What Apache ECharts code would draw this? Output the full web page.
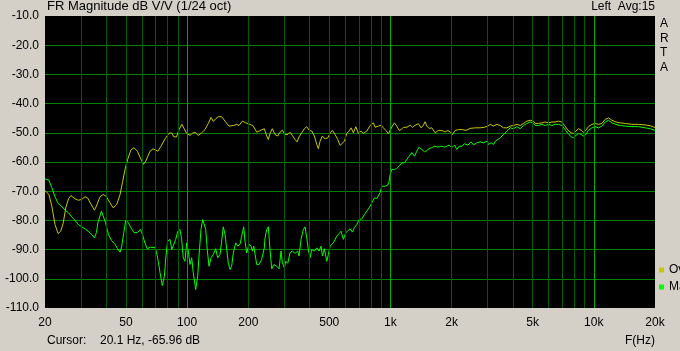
<!DOCTYPE html>
<html>
<head>
<meta charset="utf-8">
<script src="https://cdn.jsdelivr.net/npm/echarts@6/dist/echarts.min.js"></script>
<style>
html,body{margin:0;padding:0;background:#d4d0c8;}
#c{width:680px;height:351px;}
</style>
</head>
<body>
<div id="c"></div>
<script>
// Frequency tick values
const xLabelTicks = [20, 50, 100, 200, 500, 1000, 2000, 5000, 10000, 20000];
const xMinorGrid = [30, 40, 50, 60, 70, 80, 90, 200, 300, 400, 500, 600, 700, 800, 900,
                    2000, 3000, 4000, 5000, 6000, 7000, 8000, 9000];
const xMajorGrid = [100, 1000, 10000];
const seriesNames = ['Ov', 'Ma'];

// Series "Ov" : [frequency Hz, dB]
const ovData = [[20.0,-69.8],[20.4,-70.0],[20.9,-71.1],[21.6,-75.1],[22.4,-81.4],[23.2,-84.5],[23.9,-83.7],[24.6,-80.8],[25.3,-75.7],[26.1,-72.6],[26.8,-71.5],[28.1,-72.6],[29.2,-73.1],[30.3,-72.8],[31.5,-71.9],[32.4,-72.3],[33.7,-74.5],[35.0,-76.5],[35.8,-75.1],[37.3,-71.9],[38.7,-71.1],[40.1,-71.9],[41.8,-74.0],[43.3,-75.7],[45.1,-74.5],[46.8,-71.1],[48.2,-66.6],[49.5,-62.6],[51.0,-59.1],[52.9,-55.9],[54.8,-55.1],[56.9,-56.3],[58.9,-58.6],[61.0,-60.8],[62.6,-59.7],[65.7,-56.3],[68.0,-55.5],[69.5,-55.5],[71.8,-56.3],[74.4,-54.6],[77.8,-52.1],[81.3,-50.2],[83.9,-50.0],[86.1,-51.4],[88.6,-51.4],[91.3,-48.9],[94.2,-47.1],[96.7,-48.6],[99.5,-50.2],[103.3,-50.9],[106.0,-50.2],[109.3,-49.8],[113.5,-50.9],[117.9,-50.0],[122.4,-48.9],[127.1,-46.8],[131.1,-44.7],[134.5,-46.1],[138.2,-45.2],[142.3,-44.5],[147.9,-44.5],[153.6,-46.0],[160.7,-47.7],[168.7,-47.5],[175.3,-47.1],[180.0,-47.5],[186.8,-46.0],[194.2,-46.6],[203.9,-47.1],[211.6,-47.7],[219.9,-49.8],[230.9,-49.1],[239.7,-48.6],[246.3,-51.1],[250.8,-52.3],[255.7,-50.2],[262.4,-48.6],[270.6,-50.6],[279.0,-51.1],[286.4,-49.8],[294.0,-49.1],[303.1,-50.6],[312.5,-50.6],[320.7,-49.8],[329.2,-50.9],[339.4,-52.3],[347.2,-53.1],[355.2,-51.4],[366.2,-50.0],[377.2,-48.6],[387.6,-47.9],[397.8,-49.1],[410.1,-49.4],[422.4,-51.1],[434.1,-54.0],[442.0,-55.4],[450.6,-52.9],[462.5,-51.1],[476.9,-52.1],[491.7,-51.7],[504.7,-50.2],[518.0,-49.1],[534.1,-50.6],[550.7,-52.3],[565.2,-54.3],[576.2,-54.8],[593.5,-52.9],[609.8,-50.2],[626,-49.4],[640.3,-48.3],[657.2,-50.0],[675.4,-47.9],[695.5,-50.2],[717.1,-49.4],[735.9,-50.2],[765,-49.4],[794.1,-47.5],[824.3,-46.6],[840.4,-48.1],[856.7,-48.5],[872.3,-47.7],[899.5,-47.4],[923.2,-48.3],[948.7,-49.2],[977,-50.3],[996,-50.0],[1022,-47.7],[1046,-46.6],[1074,-47.7],[1103,-49.2],[1129,-48.9],[1158,-48.1],[1204,-48.1],[1250,-47.4],[1283,-48.1],[1322,-47.4],[1372,-46.9],[1415,-48.3],[1452,-47.4],[1481,-46.2],[1510,-47.7],[1550,-48.5],[1597,-48.3],[1627,-48.9],[1659,-50.0],[1722,-49.2],[1789,-49.2],[1858,-49.7],[1916,-49.2],[1966,-49.7],[2018,-50.6],[2081,-49.2],[2160,-48.9],[2260,-48.9],[2349,-49.2],[2466,-48.5],[2610,-48.3],[2762,-48.3],[2900,-48.1],[3014,-47.7],[3093,-47.1],[3211,-47.7],[3337,-47.1],[3464,-47.5],[3596,-48.3],[3737,-48.3],[3880,-47.7],[4027,-47.5],[4186,-47.1],[4345,-47.5],[4510,-46.8],[4687,-46.0],[4866,-45.7],[5051,-46.0],[5150,-46.8],[5346,-46.8],[5556,-46.6],[5768,-46.3],[5987,-46.6],[6222,-46.3],[6460,-46.3],[6705,-46.0],[6969,-46.3],[7178,-47.5],[7459,-49.1],[7743,-50.0],[7947,-50.2],[8168,-49.4],[8411,-48.6],[8673,-49.1],[8901,-49.8],[9148,-49.1],[9420,-47.9],[9790,-47.1],[10164,-46.8],[10550,-47.1],[10965,-46.8],[11383,-45.4],[11816,-44.9],[12280,-45.7],[12851,-46.3],[13492,-46.6],[14278,-46.8],[15403,-47.1],[16599,-47.1],[17910,-47.3],[18954,-47.6],[20000,-48.2]];

// Series "Ma" : [frequency Hz, dB]
const maData = [[20.0,-65.8],[20.9,-66.2],[21.6,-68.8],[22.4,-71.9],[23.2,-74.2],[24.1,-75.1],[25.1,-76.5],[26.1,-77.4],[27.1,-78.8],[28.1,-80.0],[29.2,-81.4],[30.3,-82.2],[31.5,-82.9],[32.6,-83.7],[33.9,-84.8],[35.0,-86.0],[35.8,-84.2],[36.4,-80.8],[37.9,-76.8],[38.7,-77.4],[39.7,-80.8],[41.0,-84.8],[42.5,-86.9],[44.2,-88.2],[45.5,-89.7],[46.8,-90.9],[47.7,-88.8],[48.8,-84.2],[49.9,-79.9],[51.4,-80.8],[52.9,-82.5],[54.8,-84.2],[56.9,-84.2],[58.9,-83.1],[60.3,-84.8],[61.8,-87.4],[63.6,-89.7],[65.9,-89.2],[69.5,-89.3],[70.8,-91.1],[72.1,-94.0],[73.6,-97.9],[75.5,-102.3],[77.3,-99.1],[78.7,-92.2],[80.2,-87.1],[82.4,-86.5],[84.0,-90.0],[85.5,-90.5],[87.9,-86.5],[89.9,-83.7],[92.2,-83.1],[94.0,-86.5],[95.7,-92.8],[97.6,-94.0],[99.5,-87.7],[101.3,-90.5],[103.3,-95.1],[105.3,-92.8],[107.2,-97.9],[110.2,-103.7],[112.7,-99.1],[114.4,-92.2],[117.0,-83.1],[119.3,-79.7],[121.5,-79.1],[123.4,-83.1],[125.6,-90.0],[128.1,-95.7],[131.1,-92.8],[134.5,-91.7],[138.2,-89.7],[141.3,-92.8],[145.1,-91.7],[147.9,-87.1],[150.6,-82.2],[153.6,-84.8],[156.6,-90.0],[159.4,-94.5],[162.5,-96.8],[165.6,-95.7],[168.7,-91.1],[173.4,-87.7],[177.3,-88.8],[182.0,-88.2],[185.5,-85.4],[189.8,-82.2],[192.6,-87.1],[196.3,-91.1],[201.5,-88.2],[206.2,-88.8],[209.3,-90.5],[212.6,-88.8],[219.9,-95.1],[225.7,-95.1],[232.7,-93.4],[239.7,-89.4],[241.6,-86.0],[246.3,-83.1],[250.8,-82.2],[255.7,-90.0],[260.7,-96.6],[266.6,-95.1],[275.8,-95.7],[283.2,-96.6],[289.7,-90.5],[294.0,-94.5],[300.7,-96.2],[305.5,-94.0],[312.5,-94.7],[320.7,-91.1],[329.2,-90.5],[339.4,-91.3],[349.9,-90.5],[355.2,-92.2],[363.3,-86.5],[372.9,-83.1],[380.2,-82.2],[387.6,-86.0],[394.7,-90.0],[402.3,-92.8],[410.1,-90.0],[422.4,-90.5],[434.1,-89.4],[445.6,-90.5],[455.7,-88.8],[462.5,-92.2],[473.1,-89.7],[486.2,-94.0],[495.0,-91.7],[504.7,-88.8],[523.9,-87.7],[544.5,-85.4],[558.9,-84.5],[571.6,-83.7],[586.7,-86.5],[603,-84.2],[616.7,-84.5],[633.1,-82.9],[649.8,-84.0],[664.8,-82.5],[683,-81.4],[701.1,-79.7],[722.8,-79.5],[744.5,-78.0],[765,-76.8],[785.2,-75.7],[809.5,-74.0],[833.8,-72.3],[856.7,-72.5],[872.3,-72.8],[889.4,-70.5],[906.7,-68.3],[941.2,-68.3],[970.4,-67.9],[984.9,-66.6],[996,-64.3],[1015,-62.6],[1046,-62.6],[1074,-62.2],[1103,-61.4],[1138,-60.3],[1172,-60.3],[1204,-59.1],[1236,-58.0],[1274,-56.8],[1313,-58.0],[1348,-56.3],[1383,-54.9],[1426,-55.7],[1469,-56.5],[1510,-56.1],[1550,-55.4],[1597,-55.1],[1645,-54.6],[1710,-54.9],[1775,-54.6],[1843,-54.9],[1894,-54.6],[1944,-54.2],[2004,-55.1],[2064,-54.2],[2121,-55.7],[2178,-54.6],[2245,-54.6],[2312,-53.8],[2402,-54.2],[2494,-53.1],[2560,-54.2],[2661,-53.4],[2762,-53.1],[2867,-53.4],[2923,-53.4],[2990,-52.9],[3034,-54.0],[3128,-53.4],[3211,-54.0],[3273,-52.9],[3375,-52.3],[3464,-51.7],[3596,-50.6],[3737,-49.4],[3880,-48.3],[4027,-48.6],[4186,-47.9],[4345,-48.6],[4510,-47.5],[4687,-46.8],[4866,-46.3],[5051,-46.8],[5150,-47.5],[5346,-47.5],[5556,-47.1],[5768,-47.5],[5987,-47.1],[6222,-47.5],[6460,-47.1],[6705,-47.1],[6969,-47.5],[7178,-48.6],[7459,-50.2],[7743,-51.4],[7947,-51.7],[8168,-50.9],[8411,-50.2],[8673,-50.6],[8901,-51.1],[9148,-50.6],[9420,-49.1],[9790,-48.3],[10164,-47.9],[10550,-48.3],[10965,-47.7],[11383,-46.3],[11816,-45.7],[12280,-46.6],[12851,-47.1],[13492,-47.5],[14278,-47.7],[15403,-47.9],[16599,-47.9],[17910,-48.3],[18954,-48.6],[20000,-49.2]];

const FONT = '"Liberation Sans", Arial, sans-serif';
const chart = echarts.init(document.getElementById('c'), null, {renderer: 'canvas'});

function fmtFreq(v) {
  const r = Math.round(v);
  return r >= 1000 ? (r / 1000) + 'k' : String(r);
}

function gridSeries(values, color) {
  return {
    type: 'line', data: [], z: 1, silent: true, xAxisIndex: 0,
    markLine: {
      silent: true, animation: false,
      symbol: ['none', 'none'],
      label: {show: false},
      emphasis: {disabled: true},
      lineStyle: {color: color, width: 1, type: 'solid'},
      data: values.map(v => ({xAxis: v}))
    }
  };
}

const option = {
  animation: false,
  backgroundColor: '#d4d0c8',
  textStyle: {fontFamily: FONT},
  grid: {
    left: 45, right: 25, top: 16, bottom: 43,
    show: true, backgroundColor: '#000000', borderWidth: 0
  },
  legend: {
    orient: 'vertical',
    left: 659, top: 263,
    padding: 0,
    itemGap: 3,
    itemWidth: 5, itemHeight: 5,
    icon: 'rect',
    selectedMode: false,
    textStyle: {fontFamily: FONT, fontSize: 12, color: '#000', lineHeight: 14},
    data: seriesNames
  },
  xAxis: {
    type: 'log', logBase: 10, min: 20, max: 20000,
    axisLine: {show: false},
    axisTick: {show: false},
    splitLine: {show: false},
    axisLabel: {
      customValues: xLabelTicks,
      formatter: fmtFreq,
      margin: 9,
      color: '#000', fontSize: 12, fontFamily: FONT,
      showMinLabel: true, showMaxLabel: true, hideOverlap: false
    }
  },
  yAxis: {
    type: 'value', min: -110, max: -10, interval: 10,
    axisLine: {show: false},
    axisTick: {show: false},
    splitLine: {show: true, showMinLine: false, showMaxLine: false, lineStyle: {color: '#008200', width: 1}},
    axisLabel: {
      formatter: v => v.toFixed(1),
      margin: 6,
      color: '#000', fontSize: 12, fontFamily: FONT
    }
  },
  series: [
    gridSeries(xMinorGrid, '#005c00'),
    gridSeries(xMajorGrid, '#00a800'),
    {
      name: seriesNames[0], type: 'line', xAxisIndex: 0, z: 3,
      data: ovData, showSymbol: false, symbol: 'none',
      color: '#c8c800',
      lineStyle: {color: '#c8c800', width: 1}
    },
    {
      name: seriesNames[1], type: 'line', xAxisIndex: 0, z: 4,
      data: maData, showSymbol: false, symbol: 'none',
      color: '#00ff00',
      lineStyle: {color: '#00ff00', width: 1}
    }
  ],
  graphic: [
    {type: 'text', left: 47, top: 0, style: {text: 'FR Magnitude dB V/V (1/24 oct)', font: '13px ' + FONT, fill: '#000'}},
    {type: 'text', right: 25, top: 1, style: {text: 'Left  Avg:15', font: '12px ' + FONT, fill: '#000'}},
    {type: 'text', left: 660, top: 18, style: {text: 'A', font: '12px ' + FONT, fill: '#000'}},
    {type: 'text', left: 660, top: 33, style: {text: 'R', font: '12px ' + FONT, fill: '#000'}},
    {type: 'text', left: 660, top: 47, style: {text: 'T', font: '12px ' + FONT, fill: '#000'}},
    {type: 'text', left: 660, top: 62, style: {text: 'A', font: '12px ' + FONT, fill: '#000'}},
    {type: 'text', left: 47, top: 335, style: {text: 'Cursor:', font: '12px ' + FONT, fill: '#000'}},
    {type: 'text', left: 100, top: 335, style: {text: '20.1 Hz, -65.96 dB', font: '12px ' + FONT, fill: '#000'}},
    {type: 'text', right: 25, top: 335, style: {text: 'F(Hz)', font: '12px ' + FONT, fill: '#000'}}
  ]
};
chart.setOption(option);
</script>
</body>
</html>
